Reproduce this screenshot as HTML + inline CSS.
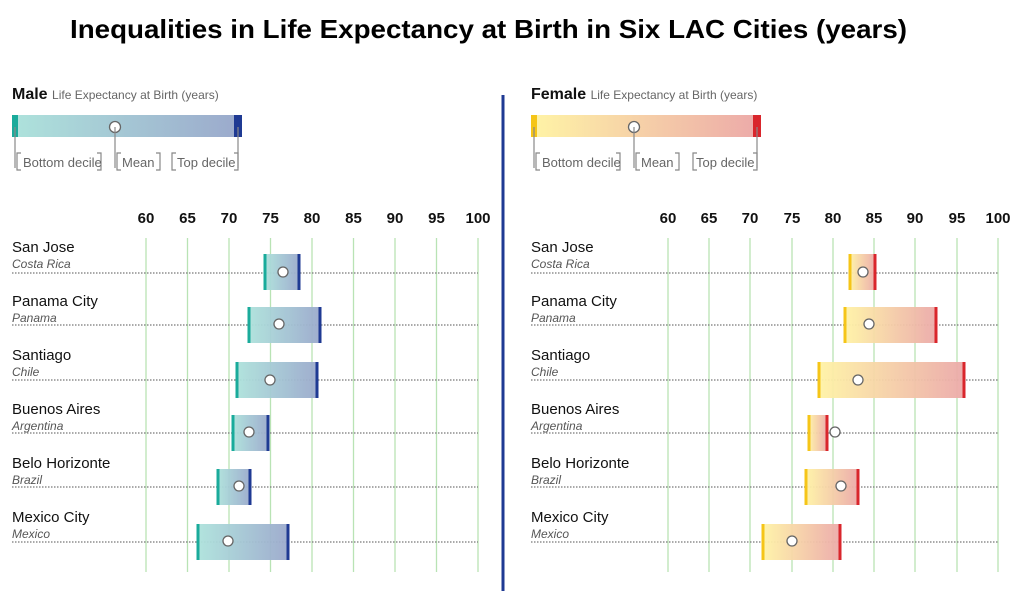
<!DOCTYPE html>
<html><head><meta charset="utf-8"><style>
body{margin:0;background:#fff;}
svg{display:block;font-family:"Liberation Sans",Arial,sans-serif;}
</style></head><body>
<svg width="1024" height="591" viewBox="0 0 1024 591" xmlns="http://www.w3.org/2000/svg">
<defs>
<linearGradient id="gm" x1="0" x2="1"><stop offset="0" stop-color="#aee3dc"/><stop offset="1" stop-color="#9ba9cc"/></linearGradient>
<linearGradient id="gf" x1="0" x2="1"><stop offset="0" stop-color="#fff4a6"/><stop offset="1" stop-color="#eca9a9"/></linearGradient>
</defs>
<text x="70" y="38" font-size="26" font-weight="bold" fill="#000" textLength="837" lengthAdjust="spacingAndGlyphs">Inequalities in Life Expectancy at Birth in Six LAC Cities (years)</text>
<line x1="503" y1="95" x2="503" y2="591" stroke="#1f3a93" stroke-width="3"/>

<!-- Male legend -->
<text x="12" y="99" font-size="16" font-weight="bold" fill="#111">Male <tspan font-size="12" font-weight="normal" fill="#666">Life Expectancy at Birth (years)</tspan></text>
<rect x="12" y="115" width="230" height="22" fill="url(#gm)"/>
<rect x="12" y="115" width="6" height="22" fill="#1aab9b"/>
<rect x="234" y="115" width="8" height="22" fill="#1f3a93"/>
<circle cx="115" cy="127" r="5.5" fill="#fff" stroke="#666" stroke-width="1.3"/>
<g stroke="#888" stroke-width="1.2" fill="none">
<path d="M15 127 V168"/><path d="M115 127 V168"/><path d="M238 127 V168"/>
<path d="M21 153 h-4 v17 h4"/><path d="M97 153 h4 v17 h-4"/>
<path d="M121 153 h-4 v17 h4"/><path d="M156 153 h4 v17 h-4"/>
<path d="M176 153 h-4 v17 h4"/><path d="M234 153 h4 v17 h-4"/>
</g>
<g font-size="13" fill="#666"><text x="23" y="167">Bottom decile</text><text x="122" y="167">Mean</text><text x="177" y="167">Top decile</text></g>

<!-- Female legend -->
<text x="531" y="99" font-size="16" font-weight="bold" fill="#111">Female <tspan font-size="12" font-weight="normal" fill="#666">Life Expectancy at Birth (years)</tspan></text>
<rect x="531" y="115" width="230" height="22" fill="url(#gf)"/>
<rect x="531" y="115" width="6" height="22" fill="#f5c518"/>
<rect x="753" y="115" width="8" height="22" fill="#d9262c"/>
<circle cx="634" cy="127" r="5.5" fill="#fff" stroke="#666" stroke-width="1.3"/>
<g stroke="#888" stroke-width="1.2" fill="none">
<path d="M534 127 V168"/><path d="M634 127 V168"/><path d="M757 127 V168"/>
<path d="M540 153 h-4 v17 h4"/><path d="M616 153 h4 v17 h-4"/>
<path d="M640 153 h-4 v17 h4"/><path d="M675 153 h4 v17 h-4"/>
<path d="M697 153 h-4 v17 h4"/><path d="M753 153 h4 v17 h-4"/>
</g>
<g font-size="13" fill="#666"><text x="542" y="167">Bottom decile</text><text x="641" y="167">Mean</text><text x="696" y="167">Top decile</text></g>

<!-- grid -->
<g stroke="#b9e3b4" stroke-width="1.3">
<line x1="146" y1="238" x2="146" y2="572"/><line x1="187.5" y1="238" x2="187.5" y2="572"/><line x1="229" y1="238" x2="229" y2="572"/><line x1="270.5" y1="238" x2="270.5" y2="572"/><line x1="312" y1="238" x2="312" y2="572"/><line x1="353.5" y1="238" x2="353.5" y2="572"/><line x1="395" y1="238" x2="395" y2="572"/><line x1="436.5" y1="238" x2="436.5" y2="572"/><line x1="478" y1="238" x2="478" y2="572"/>
<line x1="668" y1="238" x2="668" y2="572"/><line x1="709" y1="238" x2="709" y2="572"/><line x1="750" y1="238" x2="750" y2="572"/><line x1="792" y1="238" x2="792" y2="572"/><line x1="833" y1="238" x2="833" y2="572"/><line x1="874" y1="238" x2="874" y2="572"/><line x1="915" y1="238" x2="915" y2="572"/><line x1="957" y1="238" x2="957" y2="572"/><line x1="998" y1="238" x2="998" y2="572"/>
</g>
<g font-size="15" font-weight="bold" fill="#111" text-anchor="middle">
<text x="146" y="223">60</text><text x="187.5" y="223">65</text><text x="229" y="223">70</text><text x="270.5" y="223">75</text><text x="312" y="223">80</text><text x="353.5" y="223">85</text><text x="395" y="223">90</text><text x="436.5" y="223">95</text><text x="478" y="223">100</text>
<text x="668" y="223">60</text><text x="709" y="223">65</text><text x="750" y="223">70</text><text x="792" y="223">75</text><text x="833" y="223">80</text><text x="874" y="223">85</text><text x="915" y="223">90</text><text x="957" y="223">95</text><text x="998" y="223">100</text>
</g>

<!-- dotted row lines -->
<g stroke="#777" stroke-width="1.3" stroke-dasharray="1.5,1.5">
<line x1="12" y1="273" x2="478" y2="273"/><line x1="12" y1="325" x2="478" y2="325"/><line x1="12" y1="380" x2="478" y2="380"/><line x1="12" y1="433" x2="478" y2="433"/><line x1="12" y1="487" x2="478" y2="487"/><line x1="12" y1="542" x2="478" y2="542"/>
<line x1="531" y1="273" x2="998" y2="273"/><line x1="531" y1="325" x2="998" y2="325"/><line x1="531" y1="380" x2="998" y2="380"/><line x1="531" y1="433" x2="998" y2="433"/><line x1="531" y1="487" x2="998" y2="487"/><line x1="531" y1="542" x2="998" y2="542"/>
</g>

<!-- labels -->
<g font-size="15" fill="#111">
<text x="12" y="252">San Jose</text><text x="12" y="306">Panama City</text><text x="12" y="360">Santiago</text><text x="12" y="414">Buenos Aires</text><text x="12" y="468">Belo Horizonte</text><text x="12" y="522">Mexico City</text>
<text x="531" y="252">San Jose</text><text x="531" y="306">Panama City</text><text x="531" y="360">Santiago</text><text x="531" y="414">Buenos Aires</text><text x="531" y="468">Belo Horizonte</text><text x="531" y="522">Mexico City</text>
</g>
<g font-size="12" font-style="italic" fill="#555">
<text x="12" y="268">Costa Rica</text><text x="12" y="322">Panama</text><text x="12" y="376">Chile</text><text x="12" y="430">Argentina</text><text x="12" y="484">Brazil</text><text x="12" y="538">Mexico</text>
<text x="531" y="268">Costa Rica</text><text x="531" y="322">Panama</text><text x="531" y="376">Chile</text><text x="531" y="430">Argentina</text><text x="531" y="484">Brazil</text><text x="531" y="538">Mexico</text>
</g>

<!-- Male bars -->
<g opacity="0.95">
<rect x="264" y="254" width="36" height="36" fill="url(#gm)"/>
<rect x="248" y="307" width="73" height="36" fill="url(#gm)"/>
<rect x="236" y="362" width="82" height="36" fill="url(#gm)"/>
<rect x="232" y="415" width="37" height="36" fill="url(#gm)"/>
<rect x="217" y="469" width="34" height="36" fill="url(#gm)"/>
<rect x="197" y="524" width="91" height="36" fill="url(#gm)"/>
</g>
<g stroke="#1aab9b" stroke-width="3">
<line x1="265" y1="254" x2="265" y2="290"/><line x1="249" y1="307" x2="249" y2="343"/><line x1="237" y1="362" x2="237" y2="398"/><line x1="233" y1="415" x2="233" y2="451"/><line x1="218" y1="469" x2="218" y2="505"/><line x1="198" y1="524" x2="198" y2="560"/>
</g>
<g stroke="#1f3a93" stroke-width="3">
<line x1="299" y1="254" x2="299" y2="290"/><line x1="320" y1="307" x2="320" y2="343"/><line x1="317" y1="362" x2="317" y2="398"/><line x1="268" y1="415" x2="268" y2="451"/><line x1="250" y1="469" x2="250" y2="505"/><line x1="288" y1="524" x2="288" y2="560"/>
</g>
<g fill="#fff" stroke="#666" stroke-width="1.3">
<circle cx="283" cy="272" r="5"/><circle cx="279" cy="324" r="5"/><circle cx="270" cy="380" r="5"/><circle cx="249" cy="432" r="5"/><circle cx="239" cy="486" r="5"/><circle cx="228" cy="541" r="5"/>
</g>

<!-- Female bars -->
<g opacity="0.95">
<rect x="849" y="254" width="27" height="36" fill="url(#gf)"/>
<rect x="844" y="307" width="93" height="36" fill="url(#gf)"/>
<rect x="818" y="362" width="147" height="36" fill="url(#gf)"/>
<rect x="808" y="415" width="20" height="36" fill="url(#gf)"/>
<rect x="805" y="469" width="54" height="36" fill="url(#gf)"/>
<rect x="762" y="524" width="79" height="36" fill="url(#gf)"/>
</g>
<g stroke="#f5c518" stroke-width="3">
<line x1="850" y1="254" x2="850" y2="290"/><line x1="845" y1="307" x2="845" y2="343"/><line x1="819" y1="362" x2="819" y2="398"/><line x1="809" y1="415" x2="809" y2="451"/><line x1="806" y1="469" x2="806" y2="505"/><line x1="763" y1="524" x2="763" y2="560"/>
</g>
<g stroke="#d9262c" stroke-width="3">
<line x1="875" y1="254" x2="875" y2="290"/><line x1="936" y1="307" x2="936" y2="343"/><line x1="964" y1="362" x2="964" y2="398"/><line x1="827" y1="415" x2="827" y2="451"/><line x1="858" y1="469" x2="858" y2="505"/><line x1="840" y1="524" x2="840" y2="560"/>
</g>
<g fill="#fff" stroke="#666" stroke-width="1.3">
<circle cx="863" cy="272" r="5"/><circle cx="869" cy="324" r="5"/><circle cx="858" cy="380" r="5"/><circle cx="835" cy="432" r="5"/><circle cx="841" cy="486" r="5"/><circle cx="792" cy="541" r="5"/>
</g>
</svg>
</body></html>
